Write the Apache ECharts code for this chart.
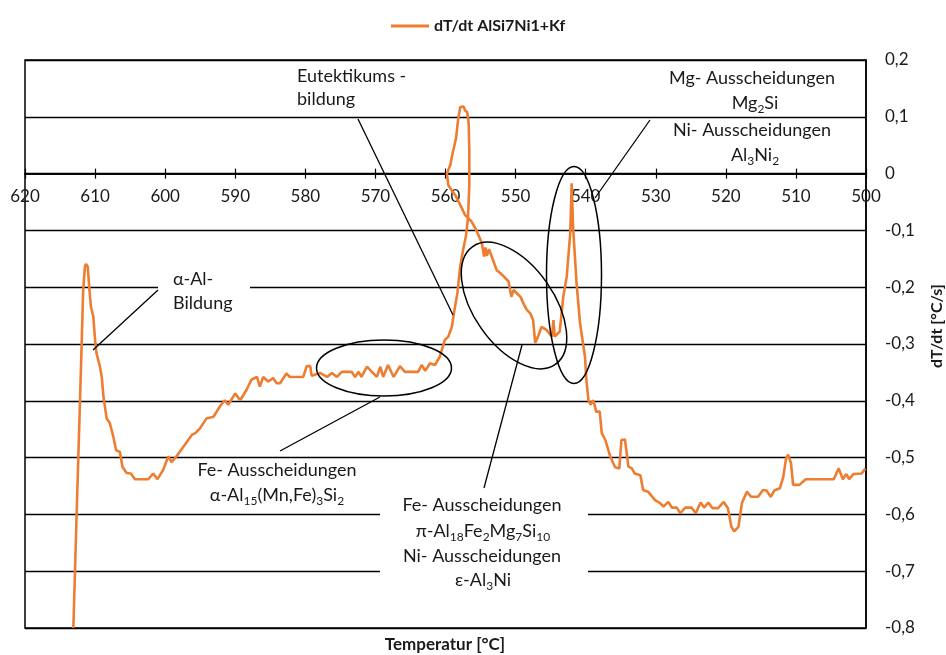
<!DOCTYPE html>
<html><head><meta charset="utf-8">
<script src="https://cdn.jsdelivr.net/npm/echarts@6/dist/echarts.min.js"></script>
<style>html,body{margin:0;padding:0;background:#fff}#c{width:946px;height:655px}</style>
</head><body><div id="c"></div>
<script>
const seriesName = 'dT/dt AlSi7Ni1+Kf';
const xName = 'Temperatur [°C]';
const yName = 'dT/dt [°C/s]';
const xRange = [500, 620, 10];
const yRange = [-0.8, 0.2, 0.1];

const temperature = [
613.1,612.6,612.15,611.9,611.7,611.45,611.3,611.05,610.8,610.6,610.25,610.0,609.8,609.3,609.05,608.8,608.35,607.9,607.4,607.0,
606.45,606.1,605.5,604.9,604.3,602.4,601.7,601.1,600.3,599.55,599.1,598.4,597.4,596.2,595.7,595.0,594.1,593.1,592.2,591.5,
591.0,590.0,589.3,588.4,587.7,586.9,586.5,586.0,585.3,584.6,584.1,583.6,582.7,582.2,580.3,579.8,579.3,579.1,577.9,576.9,
576.2,575.5,574.8,573.4,572.9,572.4,572.0,571.2,570.5,569.8,569.3,568.9,568.2,567.4,566.5,565.8,563.9,563.4,562.9,562.2,
561.5,560.8,560.1,559.6,559.1,558.8,558.3,557.9,557.5,557.1,556.8,556.6,556.6,556.7,556.9,557.2,557.4,557.6,557.9,558.2,
558.5,559.0,559.3,559.8,559.6,559.1,558.6,557.9,557.2,556.3,555.8,555.3,554.8,554.5,554.3,554.1,553.8,553.4,552.7,552.2,
551.7,551.0,550.6,550.3,549.8,549.3,548.9,548.4,547.9,547.5,547.2,546.8,546.3,545.6,544.8,544.6,544.4,543.7,543.2,542.7,
542.2,542.0,541.8,541.3,540.8,540.1,539.9,539.6,539.3,538.9,538.5,538.0,537.7,537.2,536.5,535.8,535.2,534.9,534.4,533.9,
533.4,533.0,532.2,531.8,531.1,530.1,529.4,528.9,528.2,527.7,527.0,526.5,525.8,524.9,524.3,523.6,523.1,522.5,521.9,521.1,
520.3,519.7,519.2,518.8,518.2,517.7,517.0,516.4,515.4,514.7,514.2,513.6,513.1,512.3,511.8,511.4,511.1,510.7,510.4,509.5,
508.6,504.6,503.9,503.3,502.8,502.4,501.8,500.6,500.1
];
const dTdt = [
-0.800,-0.586,-0.399,-0.293,-0.205,-0.164,-0.159,-0.164,-0.205,-0.234,-0.252,-0.293,-0.316,-0.340,-0.358,-0.393,-0.431,-0.439,-0.463,-0.487,
-0.490,-0.516,-0.527,-0.528,-0.538,-0.538,-0.528,-0.538,-0.522,-0.498,-0.508,-0.498,-0.481,-0.460,-0.457,-0.448,-0.431,-0.428,-0.410,-0.399,
-0.407,-0.387,-0.399,-0.381,-0.363,-0.358,-0.375,-0.358,-0.366,-0.360,-0.369,-0.369,-0.352,-0.358,-0.358,-0.339,-0.339,-0.356,-0.351,-0.358,
-0.351,-0.358,-0.349,-0.349,-0.358,-0.349,-0.358,-0.340,-0.349,-0.358,-0.340,-0.358,-0.337,-0.358,-0.339,-0.349,-0.349,-0.337,-0.347,-0.334,
-0.337,-0.322,-0.293,-0.287,-0.270,-0.246,-0.210,-0.164,-0.135,-0.111,-0.080,-0.020,0.040,0.090,0.108,0.111,0.118,0.121,0.117,0.095,
0.062,0.035,0.016,0.000,-0.020,-0.030,-0.038,-0.055,-0.073,-0.084,-0.095,-0.108,-0.123,-0.146,-0.130,-0.145,-0.133,-0.146,-0.170,-0.175,
-0.181,-0.190,-0.217,-0.205,-0.211,-0.217,-0.228,-0.240,-0.246,-0.258,-0.298,-0.287,-0.270,-0.275,-0.287,-0.258,-0.287,-0.278,-0.217,-0.181,
-0.105,-0.017,-0.093,-0.193,-0.264,-0.322,-0.363,-0.399,-0.407,-0.399,-0.419,-0.419,-0.457,-0.469,-0.498,-0.517,-0.519,-0.469,-0.468,-0.516,
-0.519,-0.528,-0.531,-0.557,-0.560,-0.575,-0.580,-0.586,-0.578,-0.588,-0.588,-0.598,-0.588,-0.588,-0.598,-0.579,-0.588,-0.579,-0.589,-0.589,
-0.578,-0.589,-0.622,-0.630,-0.622,-0.580,-0.560,-0.569,-0.569,-0.557,-0.558,-0.569,-0.558,-0.554,-0.534,-0.501,-0.495,-0.510,-0.548,-0.548,
-0.538,-0.538,-0.519,-0.538,-0.529,-0.538,-0.529,-0.528,-0.519
];

const FONT = 'Lato';
const TXT = '#1a1a1a';
const W = 946, H = 655;
const chart = echarts.init(document.getElementById('c'), null, {renderer: 'canvas', width: W, height: H});

function fmtY(v) {
  if (Math.abs(v) < 1e-9) return '0';
  return v.toFixed(1).replace('.', ',');
}
function line(x1, y1, x2, y2) {
  return {type: 'line', shape: {x1, y1, x2, y2}, style: {stroke: '#000', lineWidth: 1.3}, z: 100};
}
function ell(cx, cy, rx, ry, rotDeg) {
  return {type: 'ellipse', x: cx, y: cy, rotation: (rotDeg || 0) * Math.PI / 180,
    shape: {cx: 0, cy: 0, rx, ry}, style: {fill: 'none', stroke: '#000', lineWidth: 1.5}, z: 100};
}
const rich = {
  n: {fontFamily: FONT, fontSize: 18, lineHeight: 24, fill: TXT},
  s: {fontFamily: FONT, fontSize: 12, lineHeight: 12, verticalAlign: 'bottom', fill: TXT}
};
function txt(x, y, text, align, bold, size) {
  return {type: 'text', x, y, z: 101,
    style: {text, fill: TXT, font: (bold ? 'bold ' : '') + (size || 18) + 'px ' + FONT,
      fontFamily: FONT, fontSize: size || 18, fontWeight: bold ? 'bold' : 'normal',
      align: align || 'left', textAlign: align || 'left', verticalAlign: 'middle', textVerticalAlign: 'middle'}};
}
function rtxt(x, y, text, align) {
  return {type: 'text', x, y, z: 101,
    style: {text, rich, fill: TXT, align: align || 'center', textAlign: align || 'center',
      verticalAlign: 'middle', textVerticalAlign: 'middle'}};
}

const gridBox = {left: 25, right: 80, top: 60, bottom: 27};
const plotH = H - gridBox.top - gridBox.bottom;
// distance from bottom of the plot up to the value 0 on the y axis
const zeroFromBottom = (0 - yRange[0]) / (yRange[1] - yRange[0]) * plotH;

const xAxisBase = {
  type: 'value', inverse: true, min: xRange[0], max: xRange[1], interval: xRange[2],
  splitLine: {show: false}
};
const yAxisBase = {type: 'value', min: yRange[0], max: yRange[1], interval: yRange[2]};
const hiddenY = (g) => Object.assign({}, yAxisBase, {gridIndex: g, position: 'right',
  axisLine: {show: false, onZero: false}, axisTick: {show: false}, axisLabel: {show: false}, splitLine: {show: false}});

chart.setOption({
  animation: false,
  backgroundColor: '#fff',
  grid: [
    Object.assign({show: true, borderColor: '#000', borderWidth: 1.5}, gridBox),
    Object.assign({show: false}, gridBox),
    Object.assign({show: false}, gridBox)
  ],
  legend: {
    data: [{name: seriesName, icon: 'rect'}], left: 386, top: 13, itemWidth: 38, itemHeight: 3,
    textStyle: {fontFamily: FONT, fontSize: 16, fontWeight: 'bold', color: TXT}
  },
  xAxis: [
    Object.assign({}, xAxisBase, {gridIndex: 0, position: 'bottom',
      axisLine: {show: false, onZero: false}, axisTick: {show: false}, axisLabel: {show: false}}),
    Object.assign({}, xAxisBase, {gridIndex: 1, position: 'bottom', offset: -zeroFromBottom,
      axisLine: {show: true, onZero: false, lineStyle: {color: '#000', width: 1.5}},
      axisTick: {show: true, inside: false, length: 5, lineStyle: {color: '#000', width: 1.2}},
      axisLabel: {show: true, fontFamily: FONT, fontSize: 17, color: TXT, margin: 14, showMinLabel: true, showMaxLabel: true}}),
    Object.assign({}, xAxisBase, {gridIndex: 2, position: 'top',
      axisLine: {show: true, onZero: true, lineStyle: {color: '#000', width: 1.5}},
      axisTick: {show: true, inside: false, length: 5, lineStyle: {color: '#000', width: 1.2}},
      axisLabel: {show: false}})
  ],
  yAxis: [
    Object.assign({}, yAxisBase, {gridIndex: 0, position: 'right',
      axisLine: {show: true, onZero: false, lineStyle: {color: '#000', width: 1.5}},
      axisTick: {show: false},
      axisLabel: {fontFamily: FONT, fontSize: 17, color: TXT, margin: 19, formatter: fmtY},
      splitLine: {show: true, lineStyle: {color: '#000', width: 1.3}}}),
    hiddenY(1),
    hiddenY(2)
  ],
  series: [{
    name: seriesName, type: 'line', xAxisIndex: 0, yAxisIndex: 0,
    data: temperature.map((t, i) => [t, dTdt[i]]),
    showSymbol: false, symbol: 'none', smooth: false,
    lineStyle: {color: '#ED7D31', width: 2.6}, itemStyle: {color: '#ED7D31'}
  }],
  graphic: [
    {type: 'rect', shape: {x: 158, y: 266, width: 92, height: 52}, style: {fill: '#fff'}, z: 99},
    {type: 'rect', shape: {x: 380, y: 493, width: 208, height: 100}, style: {fill: '#fff'}, z: 99},
    line(158, 290, 93, 350),
    line(358, 119, 453, 315),
    line(380, 397, 280, 451),
    line(522, 345, 484, 488),
    line(650, 120, 595, 198),
    ell(384, 368, 67.5, 28, 0),
    ell(514, 305.5, 72, 40, -55),
    ell(574, 275, 27.5, 108.5, 0),
    txt(173, 279, 'α-Al-'),
    txt(173, 303, 'Bildung'),
    txt(297, 76, 'Eutektikums -'),
    txt(297, 99, 'bildung'),
    txt(752, 78, 'Mg- Ausscheidungen', 'center'),
    rtxt(755, 103, '{n|Mg}{s|2}{n|Si}'),
    txt(752, 130, 'Ni- Ausscheidungen', 'center'),
    rtxt(755, 155, '{n|Al}{s|3}{n|Ni}{s|2}'),
    txt(277, 470, 'Fe- Ausscheidungen', 'center'),
    rtxt(277, 495, '{n|α-Al}{s|15}{n|(Mn,Fe)}{s|3}{n|Si}{s|2}'),
    txt(482, 505, 'Fe- Ausscheidungen', 'center'),
    rtxt(483, 531, '{n|π-Al}{s|18}{n|Fe}{s|2}{n|Mg}{s|7}{n|Si}{s|10}'),
    txt(482, 556, 'Ni- Ausscheidungen', 'center'),
    rtxt(483, 580, '{n|ε-Al}{s|3}{n|Ni}'),
    txt(445, 645, xName, 'center', true, 17),
    {type: 'text', x: 937, y: 326, rotation: Math.PI / 2, z: 101,
      style: {text: yName, fill: TXT, font: 'bold 16px ' + FONT, fontFamily: FONT, fontSize: 16, fontWeight: 'bold',
        align: 'center', textAlign: 'center', verticalAlign: 'middle', textVerticalAlign: 'middle'}}
  ]
});
</script>
</body></html>
